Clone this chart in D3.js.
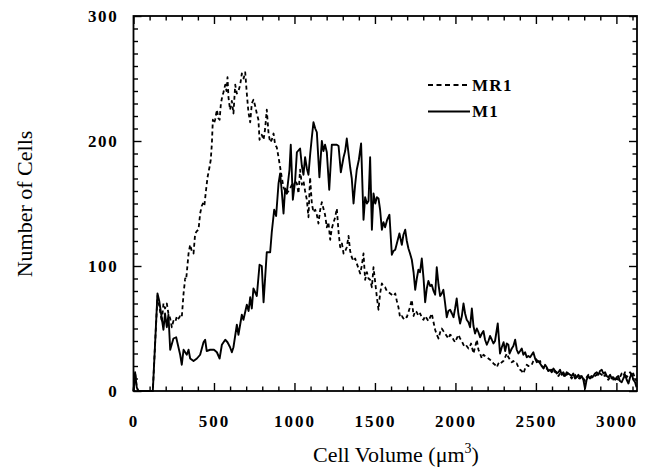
<!DOCTYPE html>
<html>
<head>
<meta charset="utf-8">
<script src="https://cdn.jsdelivr.net/npm/d3@7"></script>
<style>
  html, body { margin: 0; padding: 0; background: #fff; }
  svg { display: block; }
  text { font-family: "Liberation Serif", "Times New Roman", serif; fill: #000; }
</style>
</head>
<body>
<svg id="chart" width="648" height="476"></svg>
<script>
// ---- data ----
const seriesNames = ["MR1", "M1"];
const xTickValues = [0, 500, 1000, 1500, 2000, 2500, 3000];
const yTickValues = [0, 100, 200, 300];

const m1Volume = [0,10,20,30,120,135,149,160,176,186,196,207,217,228,248,265,290,300,311,331,342,352,373,394,414,435,445,455,476,500,518,535,549,570,584,600,611,621,642,652,673,683,704,715,725,735,745,766,783,797,808,818,828,849,859,874,886,901,911,921,932,942,952,969,977,990,1004,1015,1035,1046,1056,1066,1077,1087,1098,1108,1118,1129,1139,1155,1170,1180,1190,1201,1216,1232,1248,1263,1274,1288,1305,1315,1325,1336,1346,1356,1367,1377,1387,1400,1414,1429,1439,1450,1460,1470,1481,1491,1502,1512,1522,1532,1543,1553,1563,1576,1590,1605,1615,1626,1640,1652,1667,1677,1688,1698,1708,1718,1729,1740,1750,1760,1770,1780,1791,1802,1812,1822,1832,1843,1853,1864,1874,1884,1895,1905,1915,1925,1936,1946,1956,1967,1978,1988,1998,2008,2018,2029,2040,2050,2060,2070,2081,2091,2102,2112,2122,2133,2143,2153,2164,2174,2184,2195,2205,2215,2226,2236,2246,2263,2277,2288,2299,2309,2319,2329,2336,2350,2360,2371,2381,2391,2402,2412,2422,2433,2443,2453,2464,2474,2484,2495,2505,2515,2526,2536,2547,2557,2567,2578,2588,2598,2609,2619,2629,2640,2650,2660,2670,2681,2691,2701,2712,2722,2732,2743,2753,2764,2774,2784,2795,2805,2815,2826,2836,2846,2857,2867,2878,2888,2898,2909,2919,2930,2940,2950,2961,2971,2981,2992,3002,3012,3022,3033,3043,3054,3064,3075,3085,3095,3105,3116,3125];
const m1Count = [0,15,3,0,0,40,78,72,58,49,62,51,61,33,42,43,29,21,33,29,33,26,24,26,29,39,41,32,33,33,31,26,37,41,39,35,31,35,53,45,61,57,69,64,75,66,82,76,101,100,71,91,111,111,127,145,140,166,174,160,142,162,158,177,197,153,168,191,194,180,173,187,178,173,190,203,215,210,207,171,200,192,197,191,161,197,197,197,196,175,187,192,202,190,179,170,150,165,177,185,198,137,155,150,152,187,129,158,150,155,154,145,129,135,131,137,141,109,112,113,120,126,117,125,129,120,114,110,105,95,81,90,97,95,106,90,71,82,88,84,85,80,77,99,85,76,78,81,70,59,64,65,62,59,66,74,62,54,60,70,62,57,55,51,66,52,46,50,47,43,46,48,41,37,40,44,41,38,40,54,30,35,39,32,38,37,30,34,36,41,33,30,32,34,29,31,27,28,27,29,31,26,23,24,22,20,18,21,19,16,17,15,18,16,14,15,17,13,15,12,15,14,13,12,14,10,11,13,10,12,9,2,9,12,10,11,12,14,15,13,16,17,14,15,12,11,13,10,11,9,11,12,8,7,10,13,9,6,11,14,9,7,3];

const mr1Volume = [0,10,20,30,120,135,149,160,176,186,196,207,217,228,238,248,259,270,280,290,300,311,321,327,342,352,362,373,383,394,404,414,424,431,440,450,460,472,480,487,493,500,507,518,528,535,543,552,559,570,578,584,590,600,611,621,632,642,652,663,673,684,694,704,714,725,735,745,756,766,776,783,797,808,818,828,839,849,859,870,880,890,901,911,921,932,942,952,963,973,984,994,1004,1015,1025,1035,1046,1056,1066,1077,1087,1097,1108,1118,1129,1139,1149,1160,1170,1180,1190,1201,1211,1222,1232,1243,1253,1263,1274,1284,1295,1305,1315,1325,1336,1346,1356,1367,1377,1387,1398,1408,1418,1429,1439,1450,1460,1470,1481,1491,1505,1512,1522,1532,1543,1553,1563,1574,1584,1595,1605,1615,1626,1636,1646,1656,1667,1677,1688,1698,1708,1715,1729,1740,1750,1760,1770,1781,1791,1801,1812,1822,1832,1843,1853,1864,1874,1884,1895,1905,1915,1925,1936,1946,1956,1967,1977,1988,1998,2008,2019,2029,2039,2050,2060,2070,2081,2091,2097,2112,2122,2133,2143,2153,2164,2174,2184,2195,2205,2215,2226,2236,2246,2257,2267,2277,2288,2298,2309,2319,2329,2340,2350,2360,2371,2381,2391,2402,2412,2422,2433,2443,2453,2464,2474,2484,2495,2505,2515,2526,2536,2547,2557,2567,2578,2588,2598,2609,2619,2629,2640,2650,2660,2670,2681,2691,2701,2712,2722,2732,2743,2753,2764,2774,2784,2795,2805,2815,2826,2836,2846,2857,2867,2878,2888,2898,2909,2919,2930,2940,2950,2961,2971,2981,2992,3002,3012,3022,3033,3043,3054,3064,3075,3085,3095,3105,3116,3125];
const mr1Count = [0,15,3,0,0,40,76,68,55,70,66,70,62,58,51,56,55,60,58,60,59,78,90,89,110,117,112,110,126,128,129,142,148,150,148,160,171,179,185,198,217,214,217,225,218,217,230,236,239,245,240,251,235,225,232,222,245,238,240,245,254,250,255,238,223,215,230,233,228,222,217,201,205,201,210,225,206,199,201,206,197,195,187,179,171,163,160,158,160,162,165,163,168,166,158,177,165,168,160,153,139,171,150,143,145,141,134,145,151,146,141,131,135,121,130,135,139,146,127,115,118,110,112,115,124,112,107,104,106,102,98,94,100,110,89,95,90,89,83,99,83,75,65,78,86,84,83,80,79,78,77,76,78,72,67,59,60,58,60,59,63,66,73,60,64,63,60,62,59,57,60,58,56,59,62,55,49,45,42,47,50,48,46,44,42,45,44,41,39,42,45,42,40,37,35,36,34,36,38,30,35,41,33,30,26,29,28,27,26,25,24,22,21,19,22,21,23,24,27,30,27,25,23,24,22,22,19,17,16,14,18,21,20,20,21,24,26,25,22,24,20,19,17,18,16,15,17,14,16,15,12,14,15,13,11,13,14,12,10,12,13,11,9,12,11,10,8,11,13,11,12,10,12,13,12,14,13,11,13,10,9,11,12,9,8,10,9,11,14,12,15,11,13,15,12,14,10,8];

// ---- layout ----
const svg = d3.select("#chart");
const margin = { left: 133.5, right: 11, top: 16, bottom: 85 };
const W = 648, H = 476;
const plotW = W - margin.left - margin.right;
const plotH = H - margin.top - margin.bottom;

const x = d3.scaleLinear().domain([0, 3128]).range([0, plotW]);
const y = d3.scaleLinear().domain([0, 300]).range([plotH, 0]);

const g = svg.append("g").attr("transform", `translate(${margin.left},${margin.top})`);

const xMinor = d3.range(0, 3101, 100).filter(v => v % 500 !== 0);
const yMinor = d3.range(0, 301, 10).filter(v => v % 100 !== 0);

const majorLen = 8, minorLen = 4.5;

function styleAxis(sel) {
  sel.select(".domain").remove();
  sel.selectAll(".tick line").attr("stroke", "#000").attr("stroke-width", 1.4);
}

// bottom
g.append("g").attr("transform", `translate(0,${plotH})`)
  .call(d3.axisBottom(x).tickValues(xTickValues).tickSize(-majorLen).tickPadding(24).tickFormat(d3.format("d")))
  .call(styleAxis)
  .call(s => s.selectAll("text").attr("font-size", 17).attr("font-weight", "bold")
        .style("font-family", '"Liberation Serif", serif').attr("letter-spacing", "2px").attr("fill", "#000"));
g.append("g").attr("transform", `translate(0,${plotH})`)
  .call(d3.axisBottom(x).tickValues(xMinor).tickSize(-minorLen).tickFormat(""))
  .call(styleAxis);
// top
g.append("g")
  .call(d3.axisTop(x).tickValues(xTickValues).tickSize(-majorLen).tickFormat(""))
  .call(styleAxis);
g.append("g")
  .call(d3.axisTop(x).tickValues(xMinor).tickSize(-minorLen).tickFormat(""))
  .call(styleAxis);
// left
g.append("g")
  .call(d3.axisLeft(y).tickValues(yTickValues).tickSize(-majorLen).tickPadding(15).tickFormat(d3.format("d")))
  .call(styleAxis)
  .call(s => s.selectAll("text").attr("font-size", 17).attr("font-weight", "bold")
        .style("font-family", '"Liberation Serif", serif').attr("letter-spacing", "1.7px").attr("fill", "#000"));
g.append("g")
  .call(d3.axisLeft(y).tickValues(yMinor).tickSize(-minorLen).tickFormat(""))
  .call(styleAxis);
// right
g.append("g").attr("transform", `translate(${plotW},0)`)
  .call(d3.axisRight(y).tickValues(yTickValues).tickSize(-majorLen).tickFormat(""))
  .call(styleAxis);
g.append("g").attr("transform", `translate(${plotW},0)`)
  .call(d3.axisRight(y).tickValues(yMinor).tickSize(-minorLen).tickFormat(""))
  .call(styleAxis);

// frame
g.append("rect").attr("x", 0).attr("y", 0).attr("width", plotW).attr("height", plotH)
  .attr("fill", "none").attr("stroke", "#000").attr("stroke-width", 1.8);

// lines
const line = d3.line().x(d => x(d[0])).y(d => y(d[1]));
const mr1Data = d3.zip(mr1Volume, mr1Count);
const m1Data = d3.zip(m1Volume, m1Count);

g.append("path").datum(mr1Data).attr("d", line)
  .attr("fill", "none").attr("stroke", "#000").attr("stroke-width", 1.8)
  .attr("stroke-dasharray", "4,3").attr("stroke-linejoin", "round");
g.append("path").datum(m1Data).attr("d", line)
  .attr("fill", "none").attr("stroke", "#000").attr("stroke-width", 1.9)
  .attr("stroke-linejoin", "round");

// legend
const legend = svg.append("g");
const legendRows = [
  { name: seriesNames[0], dash: "5,3.5", y: 85 },
  { name: seriesNames[1], dash: null, y: 111.5 }
];
legendRows.forEach(r => {
  legend.append("line").attr("x1", 428).attr("x2", 470).attr("y1", r.y).attr("y2", r.y)
    .attr("stroke", "#000").attr("stroke-width", 1.8)
    .attr("stroke-dasharray", r.dash);
  legend.append("text").attr("x", 472).attr("y", r.y + 5.5)
    .attr("font-size", 17).attr("font-weight", "bold").attr("letter-spacing", "1.3px")
    .text(r.name);
});

// axis titles
const xt = svg.append("text").attr("x", 396).attr("y", 462)
  .attr("text-anchor", "middle").attr("font-size", 22);
xt.append("tspan").text("Cell Volume (\u03bcm");
xt.append("tspan").attr("font-size", 14).attr("dy", -9).text("3");
xt.append("tspan").attr("dy", 9).text(")");

svg.append("text").attr("transform", "translate(32,204) rotate(-90)")
  .attr("text-anchor", "middle").attr("font-size", 22).text("Number of Cells");
</script>
</body>
</html>
